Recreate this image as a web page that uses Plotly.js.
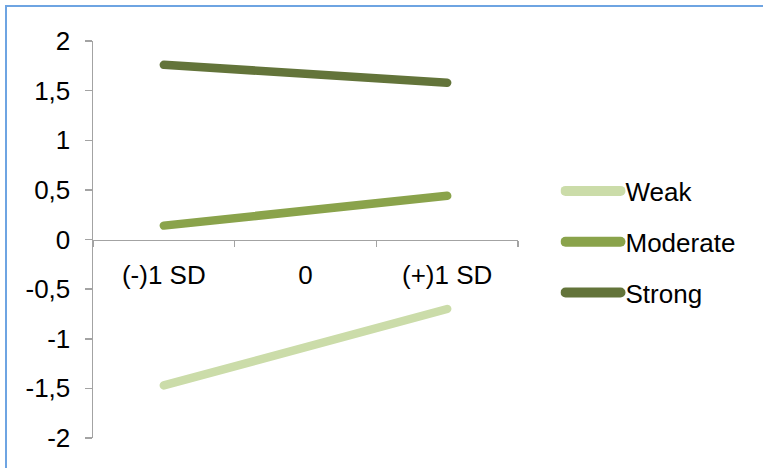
<!DOCTYPE html>
<html>
<head>
<meta charset="utf-8">
<script src="https://cdn.plot.ly/plotly-3.0.1.min.js"></script>
<style>
  html, body { margin: 0; padding: 0; background: #fff; }
  #chart { width: 763px; height: 468px; }
  #chart path.js-line { stroke-linecap: round !important; }
  #chart .legendlines path.js-line { stroke-width: 10px !important; }
</style>
</head>
<body>
<div id="chart"></div>
<script>
// Predictor levels on the x axis
const categories = ['(-)1 SD', '0', '(+)1 SD'];

// Simple slopes for each moderator level
const weak = [-1.47, -1.09, -0.70];
const moderate = [0.14, 0.29, 0.44];
const strong = [1.76, 1.67, 1.58];

// Y axis ticks, written with decimal commas
const yTickValues = [-2, -1.5, -1, -0.5, 0, 0.5, 1, 1.5, 2];
const yTickLabels = ['-2', '-1,5', '-1', '-0,5', '0', '0,5', '1', '1,5', '2'];

const seriesNames = ['Weak', 'Moderate', 'Strong'];
const seriesColors = ['#cbdca9', '#8aa34b', '#63743a'];
const seriesValues = [weak, moderate, strong];

const traces = seriesValues.map((vals, i) => ({
  type: 'scatter',
  mode: 'lines',
  name: seriesNames[i],
  legendgroup: seriesNames[i],
  x: categories,
  y: vals,
  line: { color: seriesColors[i], width: 8.5 },
  hoverinfo: 'skip'
}));

const axisGrey = '#a3a3a3';
const font = { family: 'Liberation Sans, Arial, sans-serif', size: 26, color: '#000' };

const layout = {
  width: 763,
  height: 468,
  margin: { l: 93, r: 245, t: 41, b: 30 },
  paper_bgcolor: '#fff',
  plot_bgcolor: '#fff',
  font: font,
  showlegend: true,
  legend: {
    x: 1.1,
    xanchor: 'left',
    y: 0.4937,
    yanchor: 'middle',
    traceorder: 'grouped',
    tracegroupgap: 14,
    itemwidth: 55,
    font: font,
    bgcolor: 'rgba(0,0,0,0)'
  },
  xaxis: {
    type: 'category',
    range: [-0.5, 2.5],
    anchor: 'free',
    position: 0.5,
    showgrid: false,
    zeroline: false,
    showline: true,
    linecolor: axisGrey,
    linewidth: 1.5,
    ticks: 'outside',
    tickson: 'boundaries',
    ticklen: 6,
    tickwidth: 1.5,
    tickcolor: axisGrey,
    ticklabelstandoff: 12,
    tickfont: font,
    fixedrange: true
  },
  yaxis: {
    range: [-2, 2],
    tickvals: yTickValues,
    ticktext: yTickLabels,
    showgrid: false,
    zeroline: false,
    showline: true,
    linecolor: axisGrey,
    linewidth: 1.5,
    ticks: 'outside',
    ticklen: 7,
    tickwidth: 1.5,
    tickcolor: axisGrey,
    ticklabelstandoff: 9,
    tickfont: font,
    fixedrange: true
  },
  shapes: [{
    // chart frame
    type: 'rect',
    xref: 'paper', yref: 'paper',
    x0: -0.2047, x1: 2.0,
    y0: -0.3, y1: 1.0882,
    line: { color: '#6ea4e2', width: 2 },
    fillcolor: 'rgba(0,0,0,0)',
    layer: 'below'
  }]
};

Plotly.newPlot('chart', traces, layout, { displayModeBar: false, staticPlot: true });
</script>
</body>
</html>
